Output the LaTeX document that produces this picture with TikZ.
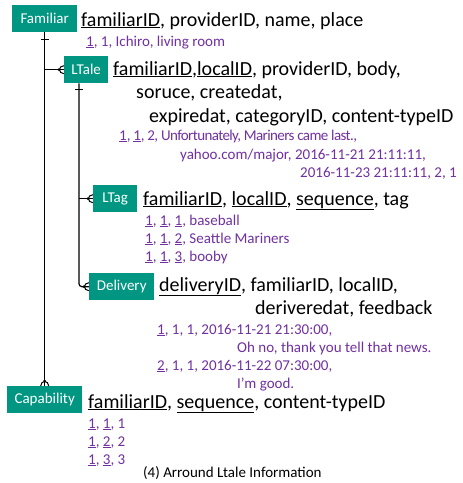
\documentclass[tikz,border=0pt]{standalone}
\usepackage{fontspec}
\setmainfont{Carlito}
\definecolor{boxteal}{RGB}{0,150,130}
\definecolor{rowpurple}{RGB}{112,48,160}

\begin{document}
\begin{tikzpicture}[x=1pt,y=-1pt,
  ent/.style={fill=boxteal,text=white,font=\fontsize{15}{18}\selectfont,minimum height=27pt,inner sep=0pt,anchor=north west},
  hdr/.style={anchor=base west,inner sep=0pt,font=\fontsize{20}{24}\selectfont},
  row/.style={anchor=base west,inner sep=0pt,text=rowpurple,font=\fontsize{15}{18}\selectfont},
  rel/.style={line width=1.2pt}]
\useasboundingbox (0,0) rectangle (463,483);

\node[ent,minimum width=65pt] (familiar) at (12,5) {Familiar};
\node[ent,minimum width=44pt] (ltale) at (64,56) {LTale};
\node[ent,minimum width=44pt] (ltag) at (93,185) {LTag};
\node[ent,minimum width=65pt] (delivery) at (89,273) {Delivery};
\node[ent,minimum width=75pt] (capab) at (7,386) {Capability};

\coordinate (lt) at ([xshift=15pt]ltale.south west);
\draw[rel] (familiar.south) -- (capab.north);
\draw[rel] (familiar.south |- ltale.west) -- (ltale.west);
\draw[rel] (lt |- ltag.west) -- (ltag.west);
\draw[rel,rounded corners=3pt] (lt) |- (delivery.west);
\draw[rel] ([xshift=-4pt,yshift=-7pt]familiar.south) -- ([xshift=4pt,yshift=-7pt]familiar.south);
\draw[rel] ([xshift=-4pt,yshift=-6pt]lt) -- ([xshift=4pt,yshift=-6pt]lt);
\foreach \e in {ltale,ltag,delivery}{
  \draw[line width=1pt] ([yshift=4pt]\e.west) .. controls +(-6pt,0) and +(-6pt,0) .. ([yshift=-4pt]\e.west);
  \fill ([xshift=-5pt]\e.west) circle (1.5pt);
}
\draw[line width=1pt] ([xshift=-4pt]capab.north) .. controls +(0,6pt) and +(0,6pt) .. ([xshift=4pt]capab.north);
\fill ([yshift=5pt]capab.north) circle (1.5pt);

\node[hdr] (familiarhdr) at (81,26) {\underline{familiarID}, providerID, name, place};
\node[row] (familiarrow) at (86,46) {\underline{1}, 1, Ichiro, living room};

\node[hdr] (ltalehdra) at (113,75) {\underline{familiarID},\underline{localID}, providerID, body,};
\node[hdr] (ltalehdrb) at (136,98) {soruce, createdat,};
\node[hdr] (ltalehdrc) at (149,122) {expiredat, categoryID, content-typeID};
\node[row] (ltalerowa) at (119,140) {\addfontfeature{LetterSpace=-4}\underline{1}, \underline{1}, 2, Unfortunately, Mariners came last.,};
\node[row] (ltalerowb) at (180,159) {yahoo.com/major, 2016-11-21 21:11:11,};
\node[row] (ltalerowc) at (300,177) {2016-11-23 21:11:11, 2, 1};

\node[hdr] (ltaghdr) at (143,205) {\underline{familiarID}, \underline{localID}, \underline{sequence}, tag};
\node[row] (ltagrowa) at (145,225) {\underline{1}, \underline{1}, \underline{1}, baseball};
\node[row] (ltagrowb) at (145,243) {\underline{1}, \underline{1}, \underline{2}, Seattle Mariners};
\node[row] (ltagrowc) at (145,261) {\underline{1}, \underline{1}, \underline{3}, booby};

\node[hdr] (deliveryhdra) at (159,291) {\underline{deliveryID}, familiarID, localID,};
\node[hdr] (deliveryhdrb) at (255,314) {deriveredat, feedback};
\node[row] (deliveryrowa) at (157,334) {\underline{1}, 1, 1, 2016-11-21 21:30:00,};
\node[row] (deliveryrowb) at (237,352) {Oh no, thank you tell that news.};
\node[row] (deliveryrowc) at (157,370) {\underline{2}, 1, 1, 2016-11-22 07:30:00,};
\node[row] (deliveryrowd) at (237,388) {I'm good.};

\node[hdr] (capabhdr) at (88,408) {\underline{familiarID}, \underline{sequence}, content-typeID};
\node[row] (capabrowa) at (88,428) {\underline{1}, \underline{1}, 1};
\node[row] (capabrowb) at (88,446) {\underline{1}, \underline{2}, 2};
\node[row] (capabrowc) at (88,464) {\underline{1}, \underline{3}, 3};

\node[anchor=base west,inner sep=0pt,font=\fontsize{15}{18}\selectfont] (caption) at (143,477) {(4) Arround Ltale Information};
\end{tikzpicture}
\end{document}
